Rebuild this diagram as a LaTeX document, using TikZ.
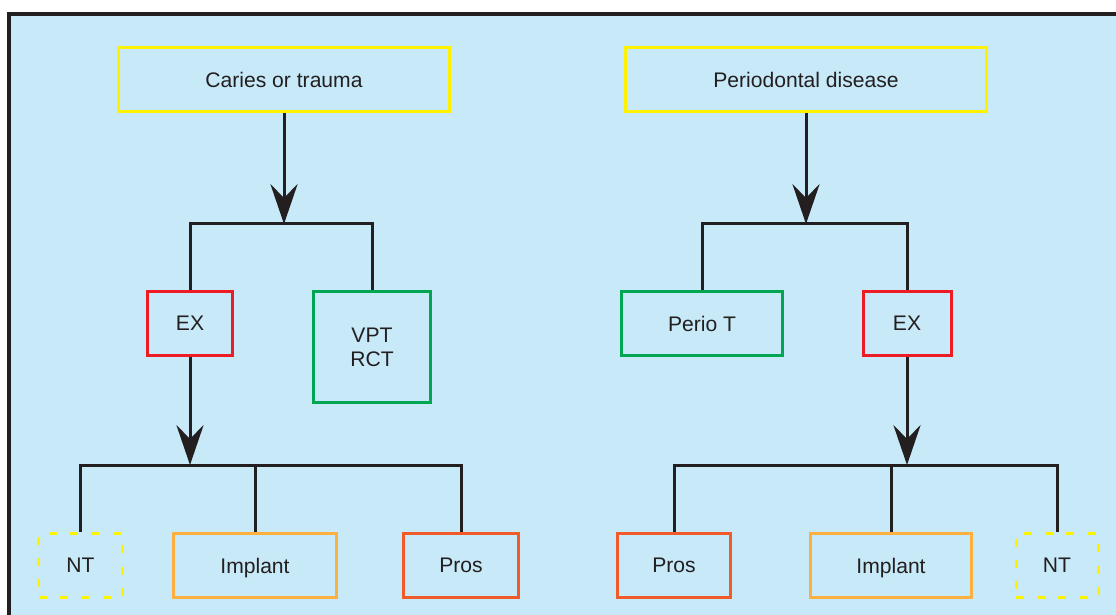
\documentclass[tikz,border=0pt]{standalone}
\usepackage{fontspec}
\setmainfont{Liberation Sans}
\usetikzlibrary{arrows.meta}
\definecolor{skybg}{HTML}{C7E9F8}
\definecolor{inkgray}{HTML}{231F20}
\definecolor{hiyellow}{HTML}{FFF200}
\definecolor{exred}{HTML}{ED1C24}
\definecolor{keepgreen}{HTML}{00A651}
\definecolor{impamber}{HTML}{FBB040}
\definecolor{prosorange}{HTML}{F15A29}
\tikzset{
  box/.style      ={draw, line width=0.75mm, minimum height=16mm,
                    inner sep=0pt, align=center, text=inkgray,
                    text depth=0pt,
                    font=\fontsize{15}{17}\selectfont},
  causebox/.style ={box, draw=hiyellow},
  exbox/.style    ={box, draw=exred},
  keepbox/.style  ={box, draw=keepgreen},
  impbox/.style   ={box, draw=impamber},
  prosbox/.style  ={box, draw=prosorange},
  ntbox/.style    ={box, draw=hiyellow, dash pattern=on 2mm off 3.3mm},
  frame/.style    ={draw=inkgray, fill=skybg, line width=1mm},
  branch/.style   ={draw=inkgray, line width=0.75mm},
  flow/.style     ={-{Stealth[length=10mm, width=6.8mm, inset=3.5mm]},
                    draw=inkgray, fill=inkgray, line width=0.75mm},
}

\begin{document}
\begin{tikzpicture}[x=0.025cm, y=-0.025cm]
  \useasboundingbox (0,0) rectangle (1116,615);
  \clip (0,0) rectangle (1116,615);
  \draw[frame] (9,14) rectangle (1150,650);

  % causes
  \node[causebox, minimum width=82.5mm] (caries) at (284,79.5)
    {Caries or trauma};
  \node[causebox, minimum width=90mm] (perio) at (806,79.5)
    {Periodontal disease};

  % first choice
  \node[exbox, minimum width=21.25mm] (exL) at (190,323.5) {EX};
  \node[keepbox, minimum width=29mm, minimum height=27.75mm] (vpt)
    at (372,347) {VPT\\RCT};
  \node[keepbox, minimum width=40.25mm] (periot) at (702,323.5) {Perio T};
  \node[exbox, minimum width=22mm] (exR) at (907,323.5) {EX};

  % after extraction
  \node[ntbox, minimum width=20.75mm] (ntL) at (80.5,565.5) {NT};
  \node[impbox, minimum width=40.5mm] (impL) at (255,565.5) {Implant};
  \node[prosbox, minimum width=28.5mm] (prosL) at (461,565.5) {Pros};
  \node[prosbox, minimum width=28.25mm] (prosR) at (674,565.5) {Pros};
  \node[impbox, minimum width=40mm] (impR) at (891,565.5) {Implant};
  \node[ntbox, minimum width=20.5mm] (ntR) at (1057,565.5) {NT};

  % connectors
  \coordinate (jcL) at (284,224);
  \coordinate (jcR) at (806,224);
  \coordinate (jxL) at (190,465);
  \coordinate (jxR) at (907,465);
  \draw[flow] (caries) -- (jcL);
  \draw[branch] (exL.north) |- (jcL) -| (vpt.north);
  \draw[flow] (perio) -- (jcR);
  \draw[branch] (periot.north) |- (jcR) -| (exR.north);
  \draw[flow] (exL) -- (jxL);
  \draw[branch] (ntL.north) |- (jxL) -| (prosL.north);
  \draw[branch] (impL.north) -- (impL.north |- jxL);
  \draw[flow] (exR) -- (jxR);
  \draw[branch] (prosR.north) |- (jxR) -| (ntR.north);
  \draw[branch] (impR.north) -- (impR.north |- jxR);
\end{tikzpicture}
\end{document}
